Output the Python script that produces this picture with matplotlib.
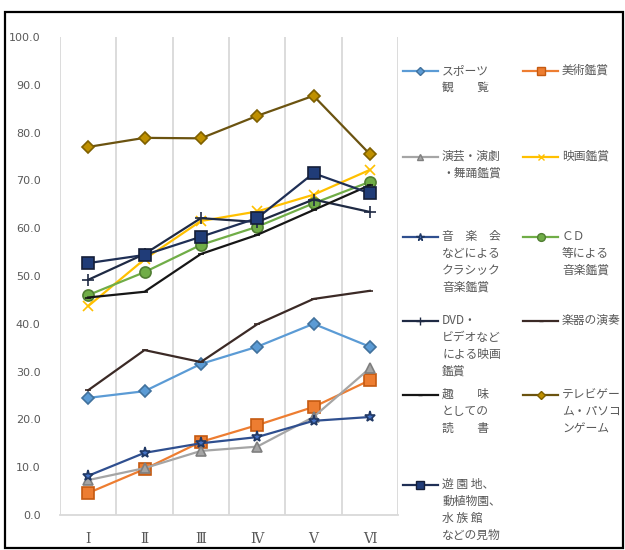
import matplotlib.pyplot as plt
from matplotlib.lines import Line2D
from matplotlib.patches import Rectangle

plt.rcParams['font.family'] = ['Noto Sans CJK JP', 'DejaVu Sans']

categories = ['Ⅰ', 'Ⅱ', 'Ⅲ', 'Ⅳ', 'Ⅴ', 'Ⅵ']

sports = [24.5, 25.9, 31.6, 35.2, 40.0, 35.2]
art = [4.6, 9.6, 15.3, 18.8, 22.6, 28.2]
theater = [7.3, 9.8, 13.4, 14.3, 20.5, 30.7]
movie = [43.7, 53.5, 61.5, 63.5, 67.0, 72.2]
concert = [8.2, 13.0, 15.0, 16.3, 19.7, 20.5]
cd_music = [46.0, 50.8, 56.5, 60.3, 65.2, 69.7]
dvd = [49.2, 54.6, 62.1, 61.3, 66.0, 63.4]
instrument = [26.1, 34.5, 32.0, 39.9, 45.2, 46.9]
reading = [45.5, 46.7, 54.6, 58.6, 63.8, 69.0]
games = [77.0, 78.9, 78.8, 83.5, 87.7, 75.5]
amusement = [52.7, 54.4, 58.2, 62.1, 71.5, 67.3]

labels = [
    'スポーツ\n観　　覧', '美術鑑賞',
    '演芸・演劇\n・舞踊鑑賞', '映画鑑賞',
    '音　楽　会\nなどによる\nクラシック\n音楽鑑賞', 'ＣＤ\n等による\n音楽鑑賞',
    'DVD・\nビデオなど\nによる映画\n鑑賞', '楽器の演奏',
    '趣　　味\nとしての\n読　　書', 'テレビゲー\nム・パソコ\nンゲーム',
    '遊 園 地、\n動植物園、\n水 族 館\nなどの見物',
]

# (line colour, marker, marker face, marker edge, marker size)
styles = [
    ('#5B9BD5', 'D', '#5B9BD5', '#41719C', 6),
    ('#ED7D31', 's', '#ED7D31', '#C55A11', 8),
    ('#A5A5A5', '^', '#A5A5A5', '#7F7F7F', 7),
    ('#FFC000', 'x', '#FFC000', '#FFC000', 7),
    ('#2F4F8F', '*', '#4472C4', '#203864', 8),
    ('#70AD47', 'o', '#70AD47', '#507E32', 8),
    ('#1F2A44', '+', '#1F2A44', '#1F2A44', 8),
    ('#3B2A26', '_', '#3B2A26', '#3B2A26', 5),
    ('#161616', '_', '#161616', '#161616', 5),
    ('#6B5310', 'D', '#BF9000', '#7F6000', 6),
    ('#1F2F55', 's', '#203C78', '#141E38', 9),
]

series = [sports, art, theater, movie, concert, cd_music,
          dvd, instrument, reading, games, amusement]

W, H = 625, 550
fig = plt.figure(figsize=(W / 100, H / 100), dpi=100)


def fx(px):
    return px / W


def fy(py):
    return 1 - py / H


ax = fig.add_axes([fx(60), fy(515), fx(398) - fx(60), fy(37) - fy(515)])

x = list(range(len(categories)))
for vals, (lc, mk, mf, me, ms) in zip(series, styles):
    ax.plot(x, vals, color=lc, lw=1.6, marker=mk, markersize=ms,
            markerfacecolor=mf, markeredgecolor=me, markeredgewidth=1.2)

ax.set_xlim(-0.5, len(categories) - 0.5)
ax.set_ylim(0, 100)
ax.set_yticks(range(0, 101, 10))
ax.set_yticklabels([f'{v:.1f}' for v in range(0, 101, 10)],
                   fontsize=8, color='#595959', family='DejaVu Sans')
ax.set_xticks(x)
ax.set_xticklabels(categories, fontsize=10, color='#595959',
                   family=['DejaVu Serif', 'Noto Sans CJK JP'])
ax.set_xticks([i - 0.5 for i in range(len(categories) + 1)], minor=True)
ax.grid(True, which='minor', axis='x', color='#D9D9D9', lw=1.3)
ax.tick_params(axis='both', which='both', length=0)
ax.tick_params(axis='y', pad=14)
ax.tick_params(axis='x', pad=12)
for s in ['left', 'right', 'top']:
    ax.spines[s].set_visible(False)
ax.spines['bottom'].set_color('#D9D9D9')
ax.spines['bottom'].set_linewidth(1.3)

# legend laid out in two columns with rows aligned
row_y = [71, 157, 237, 321, 395, 485]
col_x = [403, 523]
for i, (lab, (lc, mk, mf, me, ms)) in enumerate(zip(labels, styles)):
    r, c = divmod(i, 2)
    x0 = col_x[c]
    y0 = row_y[r]
    fig.add_artist(Line2D([fx(x0), fx(x0 + 35)], [fy(y0), fy(y0)],
                          color=lc, lw=1.6))
    fig.add_artist(Line2D([fx(x0 + 17.5)], [fy(y0)], color=lc, marker=mk,
                          markersize=ms * 0.7, markerfacecolor=mf,
                          markeredgecolor=me))
    fig.text(fx(x0 + 39), fy(y0 - 7), lab, fontsize=8.5, color='#595959',
             va='top', ha='left', linespacing=1.4)

fig.add_artist(Rectangle((fx(5), fy(548)), fx(623) - fx(5), fy(12) - fy(548),
                         fill=False, edgecolor='black', lw=1.6))

fig.savefig('out.png', dpi=100)
